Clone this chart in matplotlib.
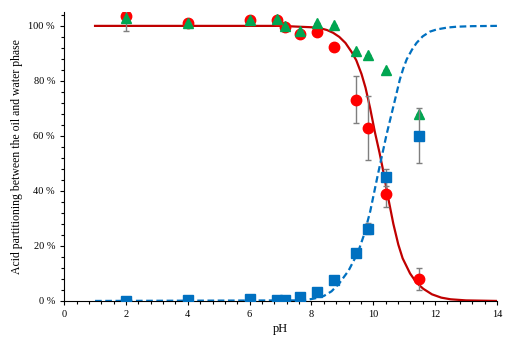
import matplotlib.pyplot as plt
from matplotlib.ticker import MultipleLocator, FuncFormatter

plt.rcParams['font.family'] = ['Liberation Serif', 'DejaVu Serif']

# measured points
ph = [2, 4, 6, 6.88, 7.16, 7.64, 8.18, 8.74, 9.44, 9.82, 10.41, 11.49]
oil_red = [103.6, 101, 102, 102, 99.7, 97.2, 97.6, 92.3, 73.1, 62.9, 39.0, 7.9]
red_err = [0, 0, 0, 0, 0, 0, 0, 0, 8.5, 11.6, 5, 4]
oil_green = [103, 101, 102, 102.4, 100, 98.2, 101, 100.2, 90.7, 89.4, 83.8, 68.0]
green_err = [5, 0, 0, 0, 0, 0, 0, 0, 0, 0, 0, 0]
water_blue = [0, 0.4, 0.7, 0.3, 0.3, 1.3, 3.4, 7.6, 17.3, 26.3, 44.9, 60.1]
blue_err = [0, 0, 0, 0, 0, 0, 0, 0, 0, 2, 3, 10]

# model curves
ph_red_curve = [1, 7.0, 7.6, 8.0, 8.3, 8.5, 8.7, 8.9, 9.1, 9.3, 9.45, 9.62, 9.75,
                9.9, 10.05, 10.2, 10.3, 10.4, 10.5, 10.65, 10.81, 10.95, 11.19,
                11.4, 11.62, 11.9, 12.2, 12.5, 13, 14]
red_curve = [100, 100, 99.7, 99.5, 99.1, 98.5, 97.5, 96.0, 93.8, 90.5, 87.5,
             82.5, 77.5, 70, 61.5, 54, 48.5, 42.5, 36.5, 28, 20.5, 15.5, 10.0,
             6.6, 4.4, 2.4, 1.2, 0.6, 0.2, 0]
ph_blue_curve = [1, 7.5, 7.85, 8.1, 8.4, 8.65, 8.9, 9.2, 9.5, 9.7, 9.9, 10.15,
                 10.43, 10.7, 10.86, 10.97, 11.08, 11.25, 11.4, 11.6, 11.83,
                 12.05, 12.4, 12.7, 13.2, 14]
blue_curve = [0, 0.2, 0.4, 0.9, 1.8, 3.5, 6.4, 11, 17.5, 24, 32.5, 46,
              60.5, 73, 80.5, 84.5, 87.8, 91.3, 93.8, 96.2, 97.9,
              98.7, 99.4, 99.7, 99.9, 100]

fig = plt.figure(figsize=(5.05, 3.37), dpi=100)
ax = fig.add_axes([0.127, 0.107, 0.857, 0.857])

ax.plot(ph_red_curve, red_curve, color='#C00000', lw=1.6, zorder=2)
ax.plot(ph_blue_curve, blue_curve, color='#0070C0', lw=1.6, ls=(0, (3, 1.6)), zorder=2)

ecol = '#7F7F7F'
ax.errorbar(ph, oil_red, yerr=red_err, fmt='o', color='#FF0000', ms=7.5,
            ecolor=ecol, elinewidth=1, capsize=2.5, zorder=3)
ax.errorbar(ph, oil_green, yerr=green_err, fmt='^', color='#00A651', ms=7,
            ecolor=ecol, elinewidth=1, capsize=2.5, zorder=4)
ax.errorbar(ph, water_blue, yerr=blue_err, fmt='s', color='#0070C0', ms=7,
            ecolor=ecol, elinewidth=1, capsize=2.5, zorder=5)

ax.set_xlim(0, 14)
ax.set_ylim(0, 105)
ax.xaxis.set_major_locator(MultipleLocator(2))
ax.xaxis.set_minor_locator(MultipleLocator(0.4))
ax.yaxis.set_major_locator(MultipleLocator(20))
ax.yaxis.set_minor_locator(MultipleLocator(4))
ax.yaxis.set_major_formatter(FuncFormatter(lambda v, p: f"{v:.0f} %"))
ax.tick_params(which='both', direction='out', labelsize=7.5, width=0.8)
ax.tick_params(which='major', length=3)
ax.tick_params(which='minor', length=2)

for s in ['top', 'right']:
    ax.spines[s].set_visible(False)

ax.set_xlabel('pH', fontsize=9, labelpad=3)
ax.set_ylabel('Acid partitioning between the oil and water phase', fontsize=8.5)

fig.savefig('out.png', dpi=100)
